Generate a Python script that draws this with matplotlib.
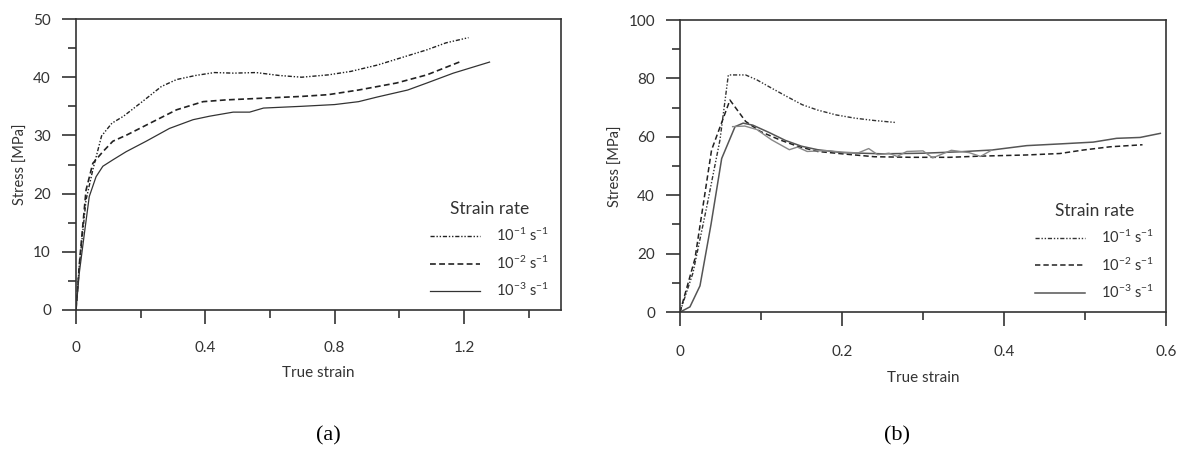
import matplotlib
matplotlib.use('Agg')
import matplotlib.pyplot as plt
from matplotlib.ticker import MultipleLocator, FuncFormatter

plt.rcParams['font.family'] = ['Lato', 'DejaVu Sans']
plt.rcParams['mathtext.fontset'] = 'custom'
plt.rcParams['mathtext.rm'] = 'Lato'
plt.rcParams['mathtext.it'] = 'Lato:italic'

# ---- panel (a) data: true strain vs stress [MPa]
a_x1 = [0, 0.010, 0.031, 0.052, 0.079, 0.111, 0.147, 0.205, 0.264, 0.311, 0.37, 0.428,
        0.487, 0.557, 0.628, 0.698, 0.78, 0.85, 0.933, 1.003, 1.085, 1.144, 1.214]
a_y1 = [0, 7.5, 18.9, 24.1, 29.9, 32.1, 33.3, 35.8, 38.4, 39.6, 40.3, 40.8,
        40.7, 40.8, 40.3, 40.0, 40.4, 41.0, 42.1, 43.3, 44.7, 45.9, 46.8]
a_x2 = [0, 0.012, 0.031, 0.052, 0.083, 0.114, 0.158, 0.229, 0.311, 0.393, 0.463, 0.58,
        0.698, 0.78, 0.874, 0.991, 1.085, 1.19]
a_y2 = [0, 9.0, 20.6, 25.2, 27.2, 29.0, 30.1, 32.1, 34.4, 35.8, 36.1, 36.4,
        36.7, 37.0, 37.8, 39.0, 40.4, 42.7]
a_x3 = [0, 0.010, 0.026, 0.041, 0.062, 0.083, 0.114, 0.155, 0.217, 0.289, 0.362, 0.413,
        0.486, 0.537, 0.58, 0.698, 0.80, 0.874, 0.932, 1.026, 1.085, 1.167, 1.279]
a_y3 = [0, 6.3, 13.2, 19.5, 22.9, 24.7, 25.8, 27.2, 29.0, 31.2, 32.7, 33.3,
        34.0, 34.0, 34.7, 35.0, 35.3, 35.8, 36.6, 37.8, 39.0, 40.7, 42.6]

# ---- panel (b) data
b_x1 = [0, 0.016, 0.033, 0.0494, 0.0597, 0.081, 0.095, 0.1136, 0.132, 0.151, 0.1696,
        0.193, 0.216, 0.24, 0.267]
b_y1 = [0, 13.4, 36, 59, 81.2, 81.2, 79.5, 76.6, 73.8, 71.0, 69.2, 67.5, 66.4, 65.6, 64.9]
b_x2 = [0, 0.0185, 0.039, 0.0617, 0.081, 0.0995, 0.123, 0.146, 0.17, 0.2, 0.24, 0.286,
        0.333, 0.37, 0.428, 0.469, 0.498, 0.531, 0.571]
b_y2 = [0, 18.3, 55.5, 72.6, 65.3, 61.8, 59.0, 56.7, 55.0, 54.2, 53.2, 53.0,
        53.0, 53.4, 53.8, 54.3, 55.5, 56.6, 57.3]
b_x3 = [0, 0.0123, 0.0247, 0.0383, 0.0515, 0.068, 0.078, 0.09, 0.11, 0.13, 0.15, 0.17,
        0.2, 0.25, 0.3, 0.346, 0.385, 0.428, 0.47, 0.51, 0.539, 0.568, 0.593]
b_y3 = [0, 1.8, 9, 30, 52.6, 63.5, 64.7, 64.0, 61.5, 58.8, 56.8, 55.6,
        54.6, 54.2, 54.4, 54.9, 55.5, 57.0, 57.6, 58.2, 59.5, 59.8, 61.2]
b_x4 = [0.065, 0.08, 0.095, 0.113, 0.135, 0.145, 0.157, 0.18, 0.2, 0.22, 0.233, 0.244,
        0.258, 0.268, 0.28, 0.3, 0.312, 0.335, 0.357, 0.371, 0.385]
b_y4 = [63.5, 63.7, 62.5, 59.0, 55.6, 56.5, 55.0, 55.3, 54.8, 54.5, 56.0, 53.9,
        54.4, 53.3, 55.0, 55.2, 52.8, 55.4, 54.6, 53.3, 55.5]

labels = [r'10$^{-1}$ s$^{-1}$', r'10$^{-2}$ s$^{-1}$', r'10$^{-3}$ s$^{-1}$']

dashdot = (0, (3, 1.3, 1, 1.3, 1, 1.3))
dashed = (0, (3.5, 2))

fig = plt.figure(figsize=(11.84, 4.55), dpi=100)
axa = fig.add_axes([0.0642, 0.3187, 0.4096, 0.6395])
axb = fig.add_axes([0.5743, 0.314, 0.4105, 0.642])

def style(ax, xmaj, xmin, ymaj, ymin, xpad):
    for s in ax.spines.values():
        s.set_color('#333333')
        s.set_linewidth(1.2)
    ax.xaxis.set_major_locator(MultipleLocator(xmaj))
    ax.xaxis.set_minor_locator(MultipleLocator(xmin))
    ax.yaxis.set_major_locator(MultipleLocator(ymaj))
    ax.yaxis.set_minor_locator(MultipleLocator(ymin))
    ax.xaxis.set_major_formatter(FuncFormatter(lambda v, p: '0' if abs(v) < 1e-9 else '%.1f' % v))
    ax.tick_params(which='major', direction='out', length=10, width=1.2, color='#333333',
                   labelsize=11, labelcolor='#333333')
    ax.tick_params(which='minor', direction='out', length=5.5, width=1.2, color='#333333')
    ax.tick_params(axis='x', which='major', pad=xpad)
    ax.tick_params(axis='y', which='major', pad=8)
    ax.set_xlabel('True strain', fontsize=11, color='#333333', labelpad=8)
    ax.set_ylabel('Stress [MPa]', fontsize=10.5, color='#333333', labelpad=4)

# (a)
axa.plot(a_x1, a_y1, color='#222222', lw=1.0, linestyle=dashdot, label=labels[0])
axa.plot(a_x2, a_y2, color='#222222', lw=1.2, linestyle=dashed, label=labels[1])
axa.plot(a_x3, a_y3, color='#333333', lw=0.9, label=labels[2])
axa.set_xlim(0, 1.5)
axa.set_ylim(0, 50)
style(axa, 0.4, 0.2, 10, 5, 12)

# (b)
axb.plot(b_x1, b_y1, color='#333333', lw=1.0, linestyle=dashdot, label=labels[0])
axb.plot(b_x2, b_y2, color='#222222', lw=1.1, linestyle=dashed, label=labels[1])
axb.plot(b_x3, b_y3, color='#555555', lw=1.1, label=labels[2])
axb.plot(b_x4, b_y4, color='#888888', lw=1.0)
axb.set_xlim(0, 0.6)
axb.set_ylim(0, 100)
style(axb, 0.2, 0.1, 20, 10, 14)

for ax in (axa, axb):
    leg = ax.legend(loc='upper right', bbox_to_anchor=(0.99, 0.40), frameon=False,
                    title='Strain rate', fontsize=10.5, title_fontsize=12.5,
                    handlelength=3.4, handletextpad=1.1, labelspacing=0.7, borderpad=0)
    for t in leg.get_texts():
        t.set_color('#333333')
    leg.get_title().set_color('#333333')

fig.text(0.277, 1 - 436 / 455, '(a)', family='Liberation Serif', fontsize=16,
         ha='center', va='center')
fig.text(0.758, 1 - 436 / 455, '(b)', family='Liberation Serif', fontsize=16,
         ha='center', va='center')

fig.savefig('out.png', dpi=100)
